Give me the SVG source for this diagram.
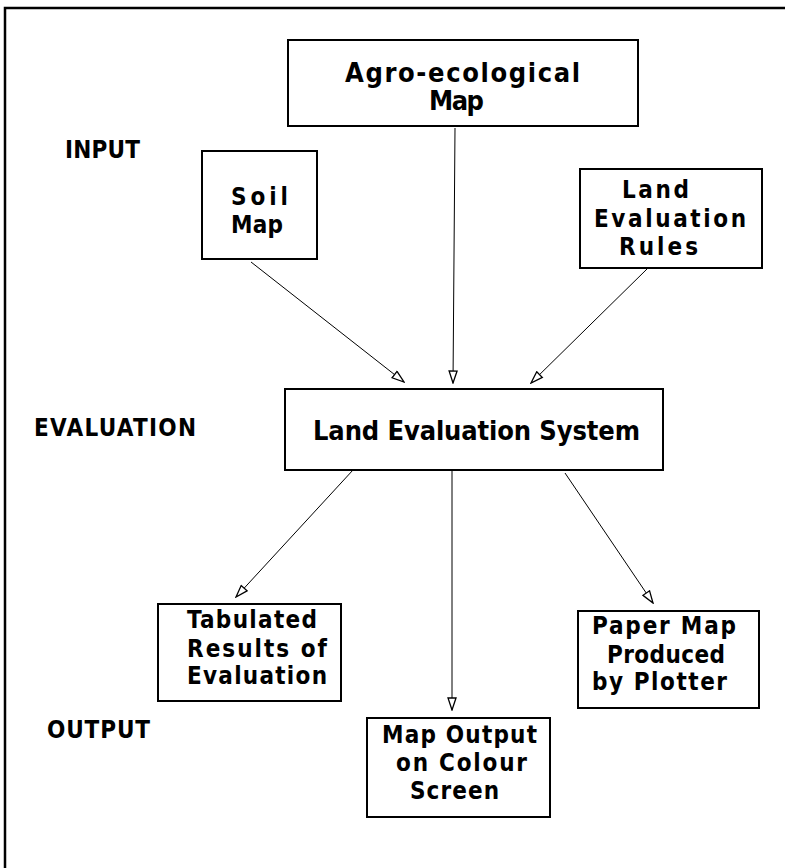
<svg xmlns="http://www.w3.org/2000/svg" width="785" height="868" viewBox="0 0 785 868">
<defs>
<style>
.box{fill:#fff;stroke:#000;stroke-width:2}
.t{font-family:"DejaVu Sans Condensed","Liberation Sans",Arial,sans-serif;font-stretch:condensed;font-weight:bold;fill:#000}
.s{font-size:24px}
.l{font-size:27px}
.conn line{stroke:#000;stroke-width:1;fill:none}
</style>
<marker id="ah" viewBox="0 0 14 10" refX="13" refY="5" markerWidth="14" markerHeight="10" markerUnits="userSpaceOnUse" orient="auto">
<path d="M1,1 L13,5 L1,9 Z" fill="#fff" stroke="#000" stroke-width="1.3"/>
</marker>
</defs>
<rect width="785" height="868" fill="#fff"/>
<path d="M5,868 V8 H785" fill="none" stroke="#000" stroke-width="2.5"/>

<g id="labels" class="t s">
<text x="65" y="158" textLength="75" lengthAdjust="spacing">INPUT</text>
<text x="34" y="436" textLength="162" lengthAdjust="spacing">EVALUATION</text>
<text x="47" y="738" textLength="103" lengthAdjust="spacing">OUTPUT</text>
</g>

<g class="conn">
<line x1="251" y1="262" x2="404" y2="382" marker-end="url(#ah)"/>
<line x1="455" y1="128" x2="453" y2="383" marker-end="url(#ah)"/>
<line x1="647" y1="269" x2="531" y2="383" marker-end="url(#ah)"/>
<line x1="353" y1="470" x2="236" y2="597" marker-end="url(#ah)"/>
<line x1="452" y1="471" x2="452" y2="710" marker-end="url(#ah)"/>
<line x1="565" y1="473" x2="653" y2="603" marker-end="url(#ah)"/>
</g>

<g id="agro">
<rect class="box" x="288" y="40" width="350" height="86"/>
<text class="t l" x="345" y="82" textLength="235" lengthAdjust="spacing">Agro-ecological</text>
<text class="t l" x="429" y="110" textLength="55" lengthAdjust="spacing">Map</text>
</g>

<g id="soil">
<rect class="box" x="202" y="151" width="115" height="108"/>
<text class="t s" x="231" y="205" textLength="57" lengthAdjust="spacing">Soil</text>
<text class="t s" x="231" y="233" textLength="52" lengthAdjust="spacing">Map</text>
</g>

<g id="rules">
<rect class="box" x="580" y="169" width="182" height="99"/>
<text class="t s" x="622" y="198" textLength="67" lengthAdjust="spacing">Land</text>
<text class="t s" x="594" y="227" textLength="152" lengthAdjust="spacing">Evaluation</text>
<text class="t s" x="619" y="255" textLength="79" lengthAdjust="spacing">Rules</text>
</g>

<g id="les">
<rect class="box" x="285" y="389" width="378" height="81"/>
<text class="t l" x="313" y="440" textLength="327" lengthAdjust="spacing">Land Evaluation System</text>
</g>

<g id="tab">
<rect class="box" x="158" y="604" width="183" height="97"/>
<text class="t s" x="187" y="628" textLength="130" lengthAdjust="spacing">Tabulated</text>
<text class="t s" x="187" y="657" textLength="140" lengthAdjust="spacing">Results of</text>
<text class="t s" x="187" y="684" textLength="140" lengthAdjust="spacing">Evaluation</text>
</g>

<g id="mapout">
<rect class="box" x="367" y="718" width="183" height="99"/>
<text class="t s" x="382" y="743" textLength="155" lengthAdjust="spacing">Map Output</text>
<text class="t s" x="396" y="771" textLength="131" lengthAdjust="spacing">on Colour</text>
<text class="t s" x="410" y="799" textLength="89" lengthAdjust="spacing">Screen</text>
</g>

<g id="paper">
<rect class="box" x="578" y="611" width="181" height="97"/>
<text class="t s" x="592" y="634" textLength="144" lengthAdjust="spacing">Paper Map</text>
<text class="t s" x="607" y="663" textLength="118" lengthAdjust="spacing">Produced</text>
<text class="t s" x="592" y="690" textLength="135" lengthAdjust="spacing">by Plotter</text>
</g>
</svg>
